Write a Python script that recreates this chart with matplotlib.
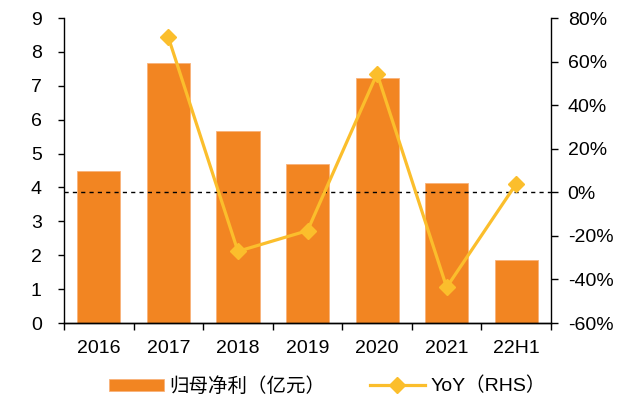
import numpy as np
import matplotlib.pyplot as plt
from matplotlib.ticker import PercentFormatter

plt.rcParams['font.family'] = ['Liberation Sans', 'Noto Sans CJK SC', 'DejaVu Sans']
plt.rcParams['axes.unicode_minus'] = False

categories = ["2016", "2017", "2018", "2019", "2020", "2021", "22H1"]
profit = [4.50, 7.68, 5.67, 4.68, 7.23, 4.12, 1.86]
yoy = [np.nan, 71.1, -27.1, -17.6, 54.5, -43.6, 3.9]

bar_color = "#F28522"
line_color = "#FBBE2C"

fig = plt.figure(figsize=(6.24, 4.01), dpi=100)
ax = fig.add_axes([0.1026, 0.1945, 0.7804, 0.7605])
x = np.arange(len(categories))

ax.bar(x, profit, width=0.62, color=bar_color, edgecolor="#F9B27A", linewidth=0.6,
       label="归母净利（亿元）", zorder=2)
ax.set_xlim(-0.5, len(categories) - 0.5)
ax.set_ylim(0, 9)
ax.set_yticks(range(0, 10))
ax.set_xticks(x)
ax.set_xticklabels(categories)
ax.set_xticks(np.arange(-0.5, len(categories)), minor=True)
ax.tick_params(axis="x", which="major", length=0, pad=12, labelsize=14)
ax.tick_params(axis="x", which="minor", length=5, width=1, direction="out")
ax.tick_params(axis="y", length=4, width=1, labelsize=14, pad=12)
ax.spines["top"].set_visible(False)
ax.spines["right"].set_visible(False)

ax2 = ax.twinx()
ax2.plot(x, yoy, color=line_color, lw=2.3, marker="D", markersize=8,
         label="YoY（RHS）", zorder=3)
ax2.axhline(0, color="black", ls=(0, (3, 3)), lw=1, zorder=1)
ax2.set_ylim(-60, 80)
ax2.set_yticks(range(-60, 81, 20))
ax2.yaxis.set_major_formatter(PercentFormatter(decimals=0))
ax2.tick_params(axis="y", length=5, width=1, labelsize=14, pad=7)
ax2.spines["top"].set_visible(False)
ax2.spines["left"].set_visible(False)
for a in (ax, ax2):
    for sp in a.spines.values():
        sp.set_linewidth(1)

h1, l1 = ax.get_legend_handles_labels()
h2, l2 = ax2.get_legend_handles_labels()
fig.legend(h1 + h2, l1 + l2, loc="center", bbox_to_anchor=(0.525, 0.037), ncol=2,
           frameon=False, fontsize=14, handlelength=2.8, handleheight=0.6,
           columnspacing=2.3, handletextpad=0.3)

fig.savefig("out.png", dpi=100)
